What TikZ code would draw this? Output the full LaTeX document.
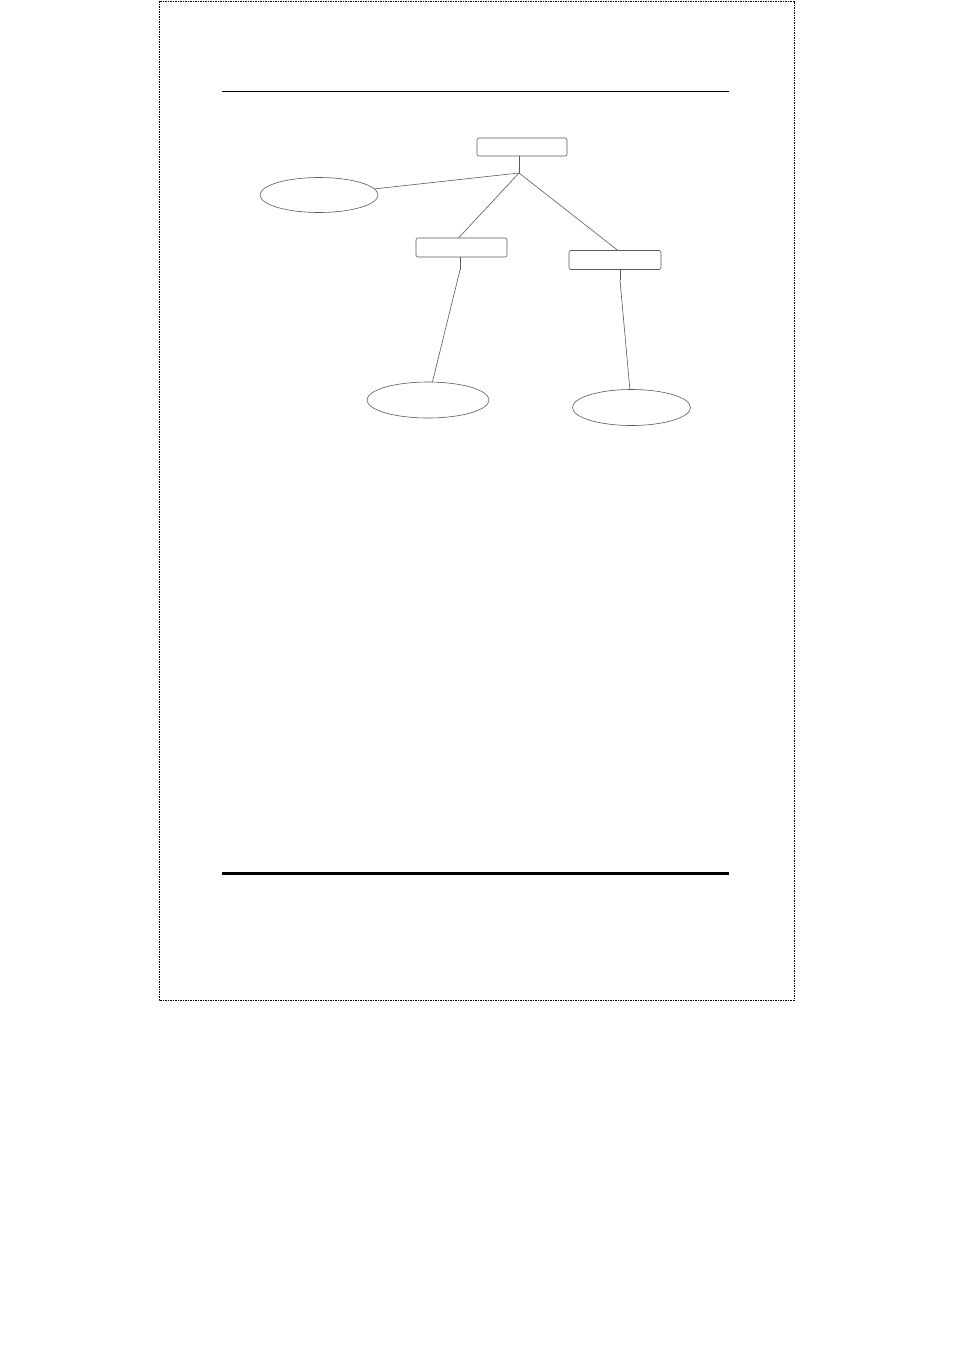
\documentclass[tikz,border=0pt]{standalone}
\usetikzlibrary{shapes.geometric}

\begin{document}
\begin{tikzpicture}[x=1pt,y=-1pt,line width=0.6pt,
  box node/.style={rectangle,rounded corners=2pt,draw=black!65,inner sep=0pt,outer sep=0pt},
  leaf node/.style={ellipse,draw=black!65,inner sep=0pt,outer sep=0pt}]

\useasboundingbox (0,0) rectangle (954,1350);

% page frame and rules
\draw[line width=0.8pt,dash pattern=on 1.5pt off 1pt] (159,1) rectangle (794,1000);
\draw[line width=1pt] (222,91) -- (729,91);
\draw[line width=3pt] (222,873) -- (729,873);

\node[box node,minimum width=90pt,minimum height=18pt] (top) at (522,147) {};
\node[leaf node,minimum width=118pt,minimum height=35pt] (lft) at (319,195) {};
\node[box node,minimum width=91pt,minimum height=19pt] (midL) at (461.5,247.5) {};
\node[box node,minimum width=92pt,minimum height=19pt] (midR) at (615,260) {};
\node[leaf node,minimum width=122pt,minimum height=36pt] (botL) at (428,400) {};
\node[leaf node,minimum width=118pt,minimum height=36pt] (botR) at (631.5,407.5) {};

\coordinate (j) at (519,173);
\coordinate (sL) at (460,270);
\coordinate (sR) at (620,280);

 \path[draw=black!65]

(top.south -| j) edge (j)
(j) edge (lft)
(j) edge ([xshift=-3pt]midL.north)
(j) edge ([xshift=3pt]midR.north)
(midL.south -| sL) edge (sL)
(sL) edge (botL)
(midR.south -| sR) edge (sR)
(sR) edge (botR);

\end{tikzpicture}
\end{document}
